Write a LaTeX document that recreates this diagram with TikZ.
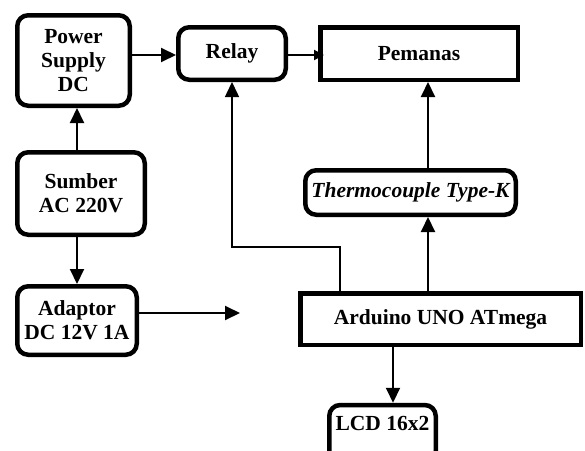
\documentclass[tikz,border=0pt]{standalone}
\usepackage{fontspec}
\setmainfont{Liberation Serif}
\usetikzlibrary{arrows.meta}
\begin{document}
\begin{tikzpicture}[x=1pt,y=-1pt,
  font=\fontsize{21.5}{24}\selectfont\bfseries,
  rbox/.style={draw, line width=4.5pt, rounded corners=11pt, align=center, inner sep=0pt},
  sbox/.style={draw, line width=4.5pt, align=center, inner sep=0pt},
  arr/.style={line width=2pt, -{Triangle[length=15pt,width=14pt]}},
  arrsmall/.style={line width=2pt, -{Triangle[length=10pt,width=10pt]}},
  arrthin/.style={line width=1.5pt, -{Triangle[length=15pt,width=14pt]}}]
\useasboundingbox (0,0) rectangle (585,450);
\node[rbox, minimum width=112.5pt, minimum height=90.5pt] (ps) at (73.5,60.5) {Power\\Supply\\DC};
\node[rbox, minimum width=107.5pt, minimum height=52.5pt] (relay) at (232,53.5) {Relay};
\node[sbox, minimum width=197.5pt, minimum height=52.5pt] (pem) at (419,53.5) {Pemanas};
\node[rbox, minimum width=127.5pt, minimum height=82.5pt] (sumber) at (81,193.5) {Sumber\\AC 220V};
\node[rbox, minimum width=119.5pt, minimum height=68.5pt] (adaptor) at (77,320.5) {Adaptor\\DC 12V 1A};
\node[rbox, minimum width=210.5pt, minimum height=44.5pt] (thermo) at (410.5,192.5) {\itshape Thermocouple Type-K};
\node[sbox, minimum width=280.5pt, minimum height=51.5pt] (arduino) at (440.5,319) {Arduino UNO ATmega};
\node[rbox, minimum width=106.5pt, text height=25pt, text depth=32pt, anchor=base] (lcd) at (382.5,430) {LCD 16x2};
\coordinate (adEnd) at (240,313);
\coordinate (ar1) at (340,0);
\coordinate (bend) at (0,247);
\coordinate (tx) at (428,0);
\coordinate (lx) at (393,0);
\coordinate (sx) at (77,0);
\draw[arr] (ps.east |- 0,55) -- (relay.west |- 0,55);
\draw[arrsmall] (relay.east |- 0,55) -- ([xshift=6pt]pem.west |- 0,55);
\draw[arr] (sx |- sumber.north) -- (sx |- ps.south);
\draw[arr] (adaptor.north |- sumber.south) -- (adaptor.north);
\draw[arr] (adaptor.east |- adEnd) -- (adEnd);
\draw[arrthin] (ar1 |- arduino.north) -- (ar1 |- bend) -| (relay.south);
\draw[arr] (tx |- arduino.north) -- (tx |- thermo.south);
\draw[arr] (tx |- thermo.north) -- (tx |- pem.south);
\draw[arr] (lx |- arduino.south) -- (lx |- lcd.north);
\end{tikzpicture}
\end{document}
